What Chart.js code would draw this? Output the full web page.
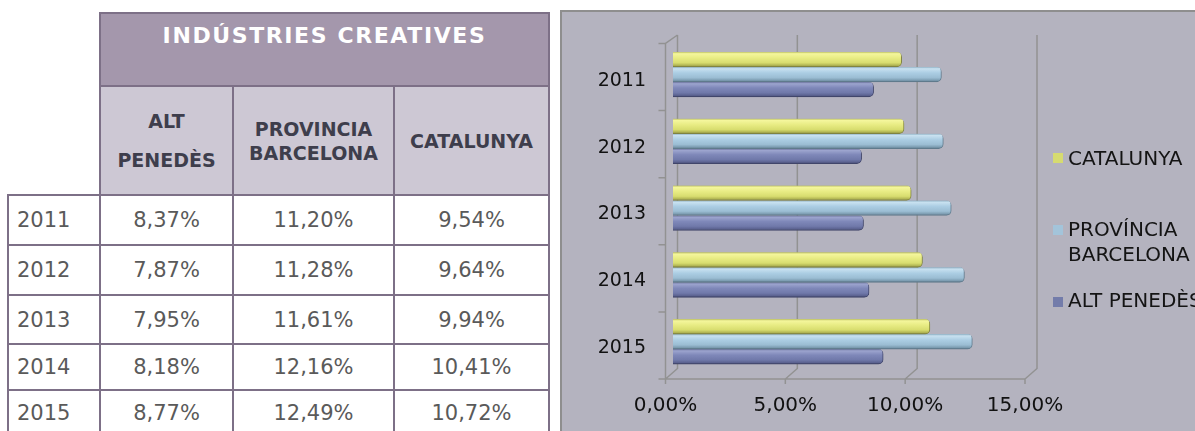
<!DOCTYPE html>
<html>
<head>
<meta charset="utf-8">
<script src="https://cdn.jsdelivr.net/npm/chart.js@4.4.1/dist/chart.umd.min.js"></script>
<style>
  html, body { margin: 0; padding: 0; width: 1195px; height: 431px; overflow: hidden; background: #fff; font-family: "DejaVu Sans", sans-serif; }
  .cell { position: absolute; box-sizing: border-box; border: 2px solid #7d7087; display: flex; align-items: center; justify-content: center; text-align: center; }
  .title { background: #a497ac; color: #fff; font-weight: bold; font-size: 22px; letter-spacing: 1.6px; align-items: flex-start; padding-top: 9px; line-height: 26px; }
  .head { background: #cdc8d4; color: #3e3e4c; font-weight: bold; font-size: 19px; }
  .data { color: #5a5a5a; font-size: 21px; background: #fff; }
  .year { justify-content: flex-start; padding-left: 8px; }
  #panel { position: absolute; left: 560px; top: 10px; width: 700px; height: 500px; box-sizing: border-box; border: 2px solid #8e8e8e; background: #b4b3bf; }
  #chart { position: absolute; left: 561px; top: 11px; }
  .leg { position: absolute; left: 1053px; font-size: 20px; color: #141414; white-space: nowrap; }
  .leg i { position: absolute; left: 0; width: 10px; height: 10px; }
  .leg span { position: absolute; left: 15px; }
</style>
</head>
<body>
<div id="table"></div>
<div id="panel"></div>
<canvas id="chart" width="634" height="420"></canvas>

<div class="leg" style="top:153px"><i style="top:0;background:#d6db70"></i><span style="top:-7px;line-height:24px">CATALUNYA</span></div>
<div class="leg" style="top:225px"><i style="top:0;background:#a3c4da"></i><span style="top:-8.5px;line-height:25px">PROVÍNCIA<br>BARCELONA</span></div>
<div class="leg" style="top:297px"><i style="top:0;background:#737caa"></i><span style="top:-9px;line-height:24px">ALT PENEDÈS</span></div>

<script>
const years = ['2011', '2012', '2013', '2014', '2015'];
const altPenedes = [8.37, 7.87, 7.95, 8.18, 8.77];
const provBarcelona = [11.2, 11.28, 11.61, 12.16, 12.49];
const catalunya = [9.54, 9.64, 9.94, 10.41, 10.72];
const seriesNames = ['CATALUNYA', 'PROVÍNCIA BARCELONA', 'ALT PENEDÈS'];

function pct(v) {
  return Number(v).toFixed(2).replace('.', ',') + '%';
}

// ===== Table =====
const table = document.getElementById('table');
const colX = [8, 100, 233, 394, 549];
const rowY = [195, 245, 295, 344, 390, 436];

function addCell(x0, x1, y0, y1, html, cls) {
  const div = document.createElement('div');
  div.className = cls;
  div.style.left = x0 - 1 + 'px';
  div.style.top = y0 - 1 + 'px';
  div.style.width = x1 - x0 + 2 + 'px';
  div.style.height = y1 - y0 + 2 + 'px';
  div.innerHTML = html;
  table.appendChild(div);
}

addCell(100, 549, 13, 86, 'INDÚSTRIES CREATIVES', 'cell title');
addCell(100, 233, 86, 195, '<div style="line-height:39px">ALT<br>PENEDÈS</div>', 'cell head');
addCell(233, 394, 86, 195, '<div style="line-height:24px">PROVINCIA<br>BARCELONA</div>', 'cell head');
addCell(394, 549, 86, 195, 'CATALUNYA', 'cell head');

years.forEach((year, i) => {
  const cols = [year, pct(altPenedes[i]), pct(provBarcelona[i]), pct(catalunya[i])];
  cols.forEach((txt, j) => {
    addCell(colX[j], colX[j + 1], rowY[i], rowY[i + 1], txt, j === 0 ? 'cell data year' : 'cell data');
  });
});

// ===== Chart =====
const BAR_H = 15;
const stops = [0, 0.12, 0.4, 0.72, 0.9, 1];
const shades = {
  cat: ['#bcc062', '#f4f69c', '#e8ec84', '#d8dd6f', '#b0b452', '#7a7d3e'],
  prov: ['#8fb0c4', '#c8e1f0', '#abcde3', '#9bbdd3', '#7b9bb0', '#566f80'],
  alt: ['#6c739c', '#9ca4ce', '#7f88b9', '#7079aa', '#5b6290', '#3c4163'],
};

// cylinder look: vertical gradient across each bar
function cylinder(shade) {
  return (ctx) => {
    const chart = ctx.chart;
    if (!chart.chartArea || ctx.dataIndex === undefined) return shade[2];
    const mid = chart.scales.y.getPixelForValue(ctx.dataIndex) + (ctx.datasetIndex - 1) * BAR_H;
    const g = chart.ctx.createLinearGradient(0, mid - BAR_H / 2, 0, mid + BAR_H / 2);
    stops.forEach((s, k) => g.addColorStop(s, shade[k]));
    return g;
  };
}

// 3D walls and floor edges, drawn from the x scale
const wall = {
  id: 'wall',
  beforeDatasetsDraw(chart) {
    const { ctx, chartArea: a, scales: { x } } = chart;
    const front = (v) => x.getPixelForValue(v) - 7.5;
    const back = (v) => x.getPixelForValue(v) + 4.5;
    const fTop = a.top + 2.5, fBot = a.bottom + 4;
    const bTop = a.top - 6, bBot = a.bottom - 6.5;
    ctx.save();
    ctx.strokeStyle = '#929292';
    ctx.lineWidth = 1.5;
    ctx.beginPath();
    x.ticks.forEach((t) => {
      ctx.moveTo(back(t.value), bTop);
      ctx.lineTo(back(t.value), bBot);
      ctx.lineTo(front(t.value), fBot);
      ctx.lineTo(front(t.value), fBot + 5);
    });
    ctx.moveTo(front(x.min), fBot);
    ctx.lineTo(front(x.max), fBot);
    ctx.moveTo(back(x.min), bTop);
    ctx.lineTo(front(x.min), fTop);
    ctx.lineTo(front(x.min), fBot);
    for (let k = 0; k <= years.length; k++) {
      const y = fTop + (k * (fBot - fTop)) / years.length;
      ctx.moveTo(front(x.min) - 7, y);
      ctx.lineTo(front(x.min), y);
    }
    ctx.stroke();
    ctx.restore();
  },
};

const tickFont = { family: 'DejaVu Sans', size: 20 };

new Chart(document.getElementById('chart'), {
  type: 'bar',
  data: {
    labels: years,
    datasets: [
      { label: seriesNames[0], data: catalunya, backgroundColor: cylinder(shades.cat), borderColor: '#7f8240' },
      { label: seriesNames[1], data: provBarcelona, backgroundColor: cylinder(shades.prov), borderColor: '#5f7a8c' },
      { label: seriesNames[2], data: altPenedes, backgroundColor: cylinder(shades.alt), borderColor: '#40456a' },
    ],
  },
  options: {
    indexAxis: 'y',
    responsive: false,
    animation: false,
    layout: { padding: { top: 30, right: 162.5 } },
    datasets: {
      bar: {
        barThickness: BAR_H,
        borderWidth: { top: 0, right: 1, bottom: 1, left: 0 },
        borderRadius: { topRight: 5, bottomRight: 5 },
      },
    },
    plugins: { legend: { display: false }, tooltip: { enabled: false } },
    scales: {
      x: {
        min: 0,
        max: 15,
        grid: { display: false, drawTicks: false },
        border: { display: false },
        ticks: { stepSize: 5, padding: 19, labelOffset: -7.5, color: '#111', font: tickFont, callback: (v) => pct(v) },
        afterFit: (s) => { s.height = 56; },
      },
      y: {
        // tick marks are hidden, their length only spaces the labels from the bars
        grid: { display: false, drawTicks: true, tickLength: 27 },
        border: { display: false },
        ticks: { padding: 0, labelOffset: 6.5, color: '#111', font: { family: 'DejaVu Sans', size: 19 } },
        afterFit: (s) => { s.width = 112; },
      },
    },
  },
  plugins: [wall],
});
</script>
</body>
</html>
